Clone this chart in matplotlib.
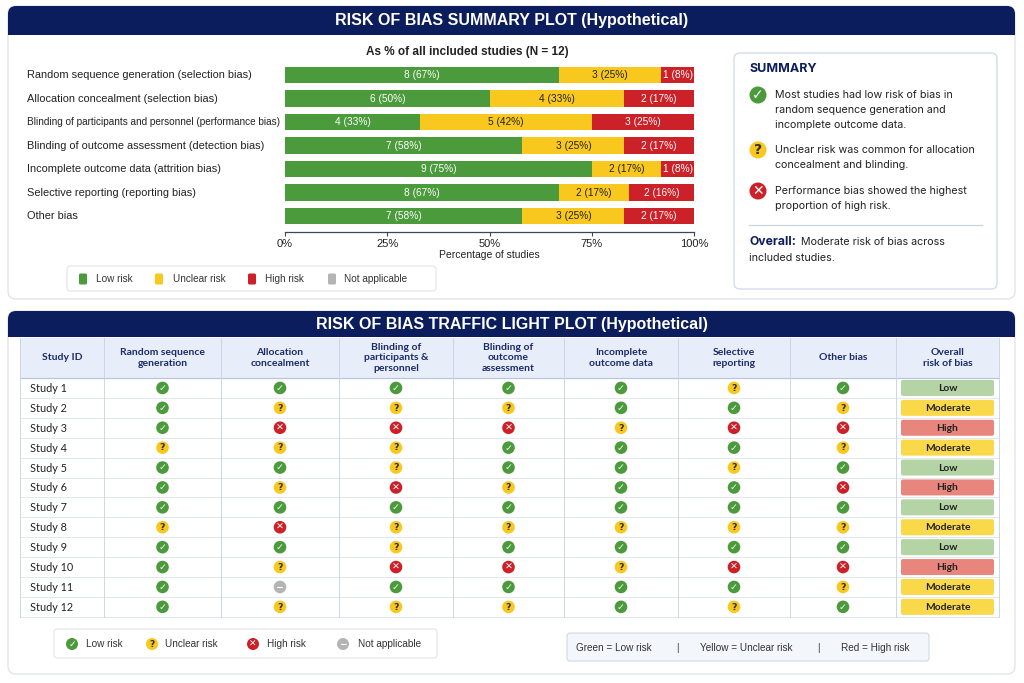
import matplotlib
matplotlib.use('Agg')
import matplotlib.pyplot as plt
import matplotlib.transforms as mtransforms
from matplotlib.patches import FancyBboxPatch, Rectangle, Circle
import numpy as np

"""
Risk of bias summary + traffic light plot (hypothetical data).
Layout is done in pixel coordinates on a full-figure axes, the bar chart has its own axes.
"""

######################################################################################################################
# Data
######################################################################################################################

domains = ['Random sequence generation (selection bias)',
           'Allocation concealment (selection bias)',
           'Blinding of participants and personnel (performance bias)',
           'Blinding of outcome assessment (detection bias)',
           'Incomplete outcome data (attrition bias)',
           'Selective reporting (reporting bias)',
           'Other bias']
low_n = [8, 6, 4, 7, 9, 8, 7]
unclear_n = [3, 4, 5, 3, 2, 2, 3]
high_n = [1, 2, 3, 2, 1, 2, 2]
low_pct = [67, 50, 33, 58, 75, 67, 58]
unclear_pct = [25, 33, 42, 25, 17, 17, 25]
high_pct = [8, 17, 25, 17, 8, 16, 17]
pct_ticks = [0, 25, 50, 75, 100]

studies = ['Study %d' % i for i in range(1, 13)]
columns = ['Study ID', 'Random sequence\ngeneration', 'Allocation\nconcealment',
           'Blinding of\nparticipants &\npersonnel', 'Blinding of\noutcome\nassessment',
           'Incomplete\noutcome data', 'Selective\nreporting', 'Other bias', 'Overall\nrisk of bias']
# L = low, U = unclear, H = high, N = not applicable
judgements = ['LLLLLUL',
              'LUUULLU',
              'LHHHUHH',
              'UUULLLU',
              'LLULLUL',
              'LUHULLH',
              'LLLLLLL',
              'UHUUUUU',
              'LLULLLL',
              'LUHHUHH',
              'LNLLLLU',
              'LUUULUL']
overall = ['Low', 'Moderate', 'High', 'Moderate', 'Low', 'High', 'Low',
           'Moderate', 'Low', 'High', 'Moderate', 'Moderate']

summary_items = [('L', 'Most studies had low risk of bias in\nrandom sequence generation and\nincomplete outcome data.'),
                 ('U', 'Unclear risk was common for allocation\nconcealment and blinding.'),
                 ('H', 'Performance bias showed the highest\nproportion of high risk.')]

######################################################################################################################
# Style
######################################################################################################################

GREEN = '#4b9a3b'
YELLOW = '#f8c81e'
RED = '#cc2128'
GRAY = '#b4b4b4'
NAVY = '#0c1d5e'
DARK = '#222222'
FILL = {'L': GREEN, 'U': YELLOW, 'H': RED, 'N': GRAY}
SYMBOL = {'L': u'\u2713', 'U': '?', 'H': u'\u2715', 'N': u'\u2212'}
BADGE = {'Low': '#b5d4a6', 'Moderate': '#f9d84a', 'High': '#e8857c'}

plt.rcParams['font.family'] = ['Liberation Sans', 'DejaVu Sans']

W, H = 1024, 683


def rbox(ax, x0, y0, x1, y1, fc, ec='none', r=6, lw=0.8, z=1):
    ax.add_patch(FancyBboxPatch((x0, y0), x1 - x0, y1 - y0,
                                boxstyle='round,pad=0,rounding_size=%g' % r,
                                fc=fc, ec=ec, lw=lw, zorder=z))


def icon(ax, x, y, kind, r=6.5, fs=7):
    ax.add_patch(Circle((x, y), r, fc=FILL[kind], ec='none', zorder=5))
    col = '#333333' if kind == 'U' else 'white'
    ax.text(x, y + 0.3, SYMBOL[kind], ha='center', va='center', color=col, fontsize=fs,
            fontweight='bold', family='DejaVu Sans', zorder=6)


def panel(ax, y0, y1, yh, title):
    rbox(ax, 8, y0, 1015, y1, 'white', '#dde2ea', r=8, lw=0.9)
    rbox(ax, 8, y0, 1015, yh, NAVY, r=8, z=2)
    ax.add_patch(Rectangle((8, yh - 10), 1007, 10, fc=NAVY, ec='none', zorder=2))
    ax.text(512, (y0 + yh) / 2 + 0.5, title, ha='center', va='center', color='white',
            fontsize=11.5, fontweight='bold', zorder=3)


fig = plt.figure(figsize=(W / 100, H / 100), dpi=100)
renderer = fig.canvas.get_renderer()
bg = fig.add_axes([0, 0, 1, 1])
bg.set_xlim(0, W)
bg.set_ylim(H, 0)
bg.axis('off')

######################################################################################################################
# Summary plot
######################################################################################################################

panel(bg, 6, 299, 35, 'RISK OF BIAS SUMMARY PLOT (Hypothetical)')
bg.text(467, 52, 'As % of all included studies (N = 12)', ha='center', va='center',
        fontsize=8.5, fontweight='bold', color=DARK)

ax = fig.add_axes([285 / W, 1 - 232 / H, (694 - 285) / W, (232 - 63.25) / H])
y = np.arange(len(domains))
left = np.zeros(len(domains))
for n_vals, p_vals, col, tcol in [(low_n, low_pct, GREEN, 'white'),
                                   (unclear_n, unclear_pct, YELLOW, DARK),
                                   (high_n, high_pct, RED, 'white')]:
    ax.barh(y, p_vals, left=left, height=0.72, color=col, edgecolor='none')
    for i in range(len(domains)):
        ax.text(left[i] + p_vals[i] / 2, y[i], '%d (%d%%)' % (n_vals[i], p_vals[i]),
                ha='center', va='center', color=tcol, fontsize=7.3)
    left += np.array(p_vals)
ax.set_xlim(0, 100)
ax.set_ylim(6.68, -0.5)
ax.set_yticks([])
ax.set_xticks(pct_ticks)
ax.set_xticklabels(['%d%%' % t for t in pct_ticks], fontsize=8, color=DARK)
ax.tick_params(axis='x', length=3, width=0.8, color='#3a4660', pad=2)
for s in ['left', 'right', 'top']:
    ax.spines[s].set_visible(False)
ax.spines['bottom'].set_color('#3a4660')
ax.spines['bottom'].set_linewidth(0.9)
ax.set_xlabel('Percentage of studies', fontsize=7.5, color=DARK, labelpad=1)
ax.patch.set_alpha(0)
lab_tr = mtransforms.blended_transform_factory(fig.transFigure, ax.transData)
for i, d in enumerate(domains):
    t = ax.text(27 / W, y[i], d, transform=lab_tr, ha='left', va='center', fontsize=7.9, color=DARK)
    # the long label is set narrower so it stops short of the bars
    if 27 + t.get_window_extent(renderer).width > 281:
        t.set_family(['Liberation Sans Narrow', 'Liberation Sans'])
        wpx = t.get_window_extent(renderer).width
        if 27 + wpx > 281:
            t.set_fontsize(7.9 * (281 - 27) / wpx)

# summary legend
rbox(bg, 67, 266, 436, 291, 'white', '#dfe3ea', r=3, lw=0.8)
for xs, xt, key, lab in [(79, 96, 'L', 'Low risk'), (155, 173, 'U', 'Unclear risk'),
                         (248, 265, 'H', 'High risk'), (328, 344, 'N', 'Not applicable')]:
    rbox(bg, xs, 273.5, xs + 8, 284.5, FILL[key], r=1.5, z=3)
    bg.text(xt, 279, lab, ha='left', va='center', fontsize=7.2, color='#333333')

# summary box
rbox(bg, 734, 53, 997, 289, 'white', '#cfdaea', r=6, lw=0.9)
bg.text(749, 69, 'SUMMARY', ha='left', va='center', fontsize=9, fontweight='bold',
        color=NAVY, family='Inter')
for (key, txt), yy in zip(summary_items, [95, 150, 191]):
    icon(bg, 758, yy, key, r=8.5, fs=10)
    bg.text(775, yy - 5, txt, ha='left', va='top', fontsize=7.7, color=DARK,
            family='Inter', linespacing=1.6)
bg.plot([749, 982], [225, 225], color='#c8d3e3', lw=0.9)
ov = bg.text(749, 242, 'Overall:', ha='left', va='center', fontsize=8.8, fontweight='bold',
             color=NAVY, family='Inter')
ov_w = ov.get_window_extent(renderer).width
bg.text(749 + ov_w + 5, 242, 'Moderate risk of bias across', ha='left', va='center', fontsize=7.7,
        color=DARK, family='Inter')
bg.text(749, 258, 'included studies.', ha='left', va='center', fontsize=7.7,
        color=DARK, family='Inter')

######################################################################################################################
# Traffic light plot
######################################################################################################################

panel(bg, 311, 674, 337, 'RISK OF BIAS TRAFFIC LIGHT PLOT (Hypothetical)')

col_edges = [20, 104, 221, 339, 453, 564, 678, 790, 896, 999]
head_top, head_bot, row_h = 338, 378, 19.9
tab_bot = head_bot + row_h * len(studies)
bg.add_patch(Rectangle((col_edges[0], head_top), col_edges[-1] - col_edges[0], head_bot - head_top,
                       fc='#e8eef9', ec='none', zorder=1.5))
for i in range(len(studies) + 1):
    yy = head_bot + row_h * i
    bg.plot([col_edges[0], col_edges[-1]], [yy, yy], color='#b9c6dc' if i == 0 else '#e3e7ee',
            lw=0.9 if i == 0 else 0.7, zorder=2)
for xe in col_edges:
    bg.plot([xe, xe], [head_top, tab_bot], color='#ccd6e6', lw=0.7, zorder=2)

for j, c in enumerate(columns):
    xc = (col_edges[j] + col_edges[j + 1]) / 2
    bg.text(xc, (head_top + head_bot) / 2, c, ha='center', va='center', fontsize=7.5,
            fontweight='bold', color='#1b2a6b', family='Lato', linespacing=1.15, zorder=3)

for i, s in enumerate(studies):
    yc = head_bot + row_h * (i + 0.5)
    bg.text(30, yc + 0.5, s, ha='left', va='center', fontsize=7.8, color=DARK, family='Lato', zorder=3)
    for j, k in enumerate(judgements[i]):
        xc = (col_edges[j + 1] + col_edges[j + 2]) / 2
        icon(bg, xc, yc, k, r=6.3, fs=6.8)
    rbox(bg, 901, yc - 8, 994, yc + 8, BADGE[overall[i]], r=2, z=3)
    bg.text(947.5, yc + 0.5, overall[i], ha='center', va='center', fontsize=7.4, color=DARK,
            fontweight='bold', family='Lato', zorder=4)

# traffic light legend
rbox(bg, 54, 629, 437, 658, 'white', '#dfe3ea', r=3, lw=0.8)
for xi, xt, key, lab in [(72, 86, 'L', 'Low risk'), (152, 165, 'U', 'Unclear risk'),
                         (253, 267, 'H', 'High risk'), (343, 358, 'N', 'Not applicable')]:
    icon(bg, xi, 644, key, r=6, fs=6.5)
    bg.text(xt, 644, lab, ha='left', va='center', fontsize=7.2, color='#333333')

rbox(bg, 567, 633, 929, 661, '#f3f6fb', '#cfd8e8', r=3, lw=0.8)
for xt, lab in [(576, 'Green = Low risk'), (676, '|'), (700, 'Yellow = Unclear risk'),
                (817, '|'), (841, 'Red = High risk')]:
    bg.text(xt, 648, lab, ha='left', va='center', fontsize=7.2, color='#333333')

fig.savefig('out.png', dpi=100, facecolor='white')
